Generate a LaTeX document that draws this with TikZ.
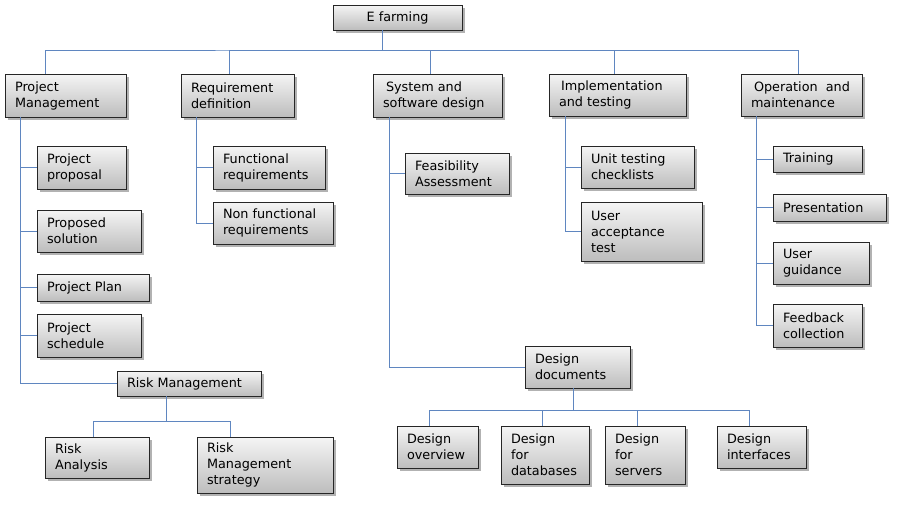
\documentclass[tikz,border=0pt]{standalone}
\usepackage{fontspec}
\setmainfont{DejaVu Sans}
\usetikzlibrary{shadows,calc}
\definecolor{linec}{RGB}{95,134,192}
\tikzset{
 box/.style={draw=black!85, line width=0.6pt, top color=black!4, bottom color=black!26,
   drop shadow={shadow xshift=2.5pt, shadow yshift=-2.5pt, fill=black, opacity=0.3},
   inner sep=0pt, font=\fontsize{12.8}{16}\selectfont},
 conn/.style={draw=linec, line width=0.85pt}
}
\newcommand\bx[7]{%
 \pgfmathsetmacro\bw{#4-#2}\pgfmathsetmacro\bh{#5-#3}\pgfmathsetmacro\tw{#4-#2-20}%
 \node[box, minimum width=\bw pt, minimum height=\bh pt, text width=\tw pt, align=#7] (#1) at ({(#2+#4)/2},{(#3+#5)/2}) {#6};}
\begin{document}
\begin{tikzpicture}[x=1pt,y=-1pt]
\fill[white] (0,0) rectangle (905,506);
\useasboundingbox (0,0) rectangle (905,506);
% top
\bx{ef}{333}{5}{462}{30}{E farming}{center}
\bx{pm}{5}{74}{126}{117}{Project\\Management}{flush left}
\bx{rd}{181}{74}{294}{117}{Requirement\\definition}{flush left}
\bx{ssd}{373}{74}{502}{117}{\hspace*{3pt}System and\\software design}{flush left}
\bx{it}{549}{74}{686}{116}{\hspace*{2pt}Implementation\\and testing}{flush left}
\bx{om}{741}{74}{862}{116}{\hspace*{3pt}Operation~ and\\maintenance}{flush left}
% project management
\bx{pp}{37}{146}{126}{189}{Project\\proposal}{flush left}
\bx{ps}{37}{210}{141}{252}{Proposed\\solution}{flush left}
\bx{ppl}{37}{274}{149}{301}{Project Plan}{flush left}
\bx{psc}{37}{314}{141}{357}{Project\\schedule}{flush left}
\bx{rm}{117}{371}{261}{396}{Risk Management}{flush left}
\bx{ra}{45}{437}{149}{478}{Risk\\Analysis}{flush left}
\bx{rms}{197}{437}{333}{493}{Risk\\Management\\strategy}{flush left}
% requirements
\bx{fr}{213}{146}{325}{189}{Functional\\requirements}{flush left}
\bx{nfr}{213}{202}{333}{244}{Non functional\\requirements}{flush left}
% system design
\bx{fa}{405}{153}{509}{194}{Feasibility\\Assessment}{flush left}
\bx{dd}{525}{346}{630}{388}{Design\\documents}{flush left}
\bx{dov}{397}{426}{478}{468}{Design\\overview}{flush left}
\bx{ddb}{501}{426}{589}{484}{Design\\for\\databases}{flush left}
\bx{dsv}{605}{426}{685}{484}{Design\\for\\servers}{flush left}
\bx{din}{717}{426}{806}{468}{Design\\interfaces}{flush left}
% implementation
\bx{ut}{581}{146}{694}{188}{Unit testing\\checklists}{flush left}
\bx{uat}{581}{202}{702}{261}{User\\acceptance\\test}{flush left}
% operation
\bx{tr}{773}{146}{862}{172}{Training}{flush left}
\bx{pr}{773}{194}{886}{221}{Presentation}{flush left}
\bx{ug}{773}{242}{869}{284}{User\\guidance}{flush left}
\bx{fc}{773}{304}{862}{347}{Feedback\\collection}{flush left}
% connectors
\coordinate (bus) at (382,50);
\draw[conn] ([xshift=-15.5pt]ef.south) -- (bus);
\draw[conn] ([xshift=-20.5pt]pm.north) |- (bus) -| ([xshift=-3.5pt]om.north);
\draw[conn] ([xshift=-8.5pt]rd.north) |- (bus);
\draw[conn] ([xshift=-7.5pt]ssd.north) |- (bus);
\draw[conn] ([xshift=-3.5pt]it.north) |- (bus);
% PM trunk
\coordinate (pmt) at ([xshift=16pt]pm.south west);
\draw[conn] (pmt) |- (pp.west);
\draw[conn] (pmt) |- (ps.west);
\draw[conn] (pmt) |- (ppl.west);
\draw[conn] (pmt) |- (psc.west);
\draw[conn] (pmt) |- (rm.west);
\draw[conn] ([xshift=-23pt]rm.south) -- ++(0,25) coordinate (rmj);
\draw[conn] ([xshift=-4pt]ra.north) |- (rmj) -| ([xshift=-35pt]rms.north);
% RD trunk
\coordinate (rdt) at ([xshift=16pt]rd.south west);
\draw[conn] (rdt) |- (fr.west);
\draw[conn] (rdt) |- (nfr.west);
% SSD trunk
\coordinate (sst) at ([xshift=17pt]ssd.south west);
\draw[conn] (sst) |- (fa.west);
\draw[conn] (sst) |- (dd.west);
\draw[conn] ([xshift=-4.5pt]dd.south) -- ++(0,22) coordinate (ddj);
\draw[conn] ([xshift=-8.5pt]dov.north) |- (ddj) -| ([xshift=-12.5pt]din.north);
\draw[conn] ([xshift=-3pt]ddb.north) |- (ddj);
\draw[conn] ([xshift=-8pt]dsv.north) |- (ddj);
% IT trunk
\coordinate (itt) at ([xshift=17pt]it.south west);
\draw[conn] (itt) |- (ut.west);
\draw[conn] (itt) |- (uat.west);
% OM trunk
\coordinate (omt) at ([xshift=16pt]om.south west);
\draw[conn] (omt) |- (tr.west);
\draw[conn] (omt) |- (pr.west);
\draw[conn] (omt) |- (ug.west);
\draw[conn] (omt) |- (fc.west);
\end{tikzpicture}
\end{document}
